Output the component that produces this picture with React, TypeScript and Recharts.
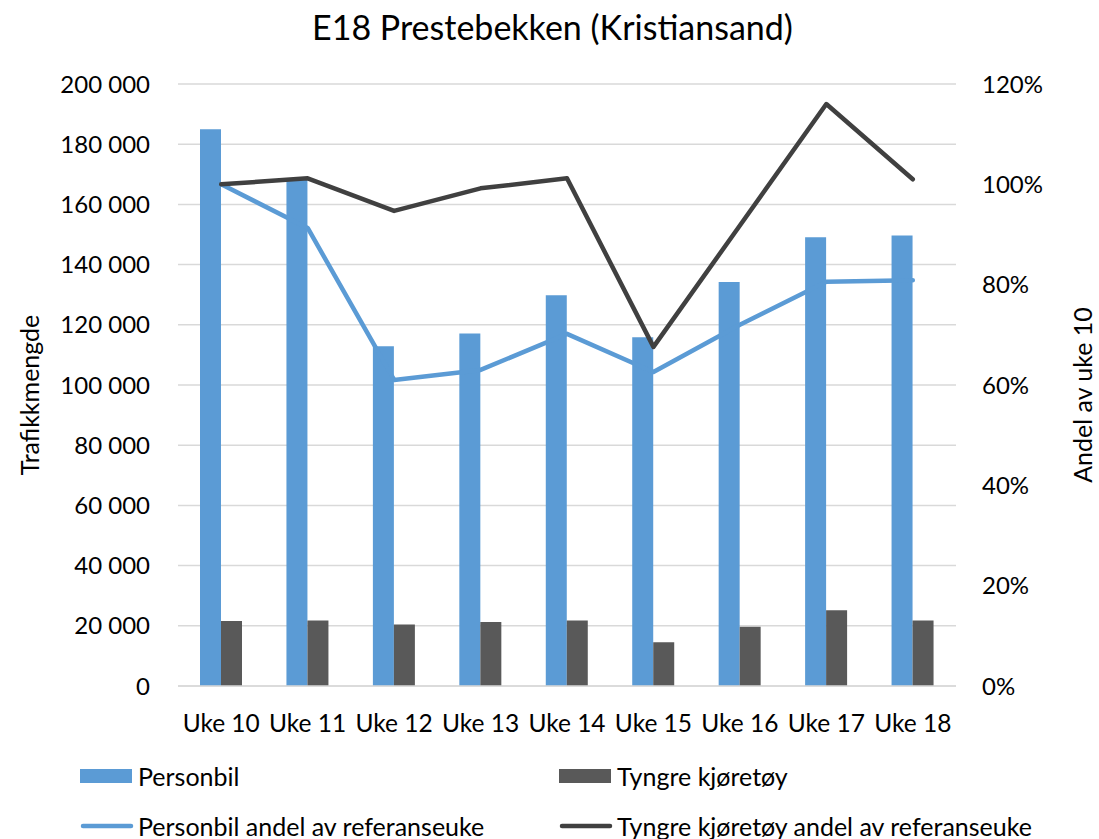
import { ComposedChart, Bar, Line, XAxis, YAxis, CartesianGrid, Legend } from 'recharts'

const categories = ['Uke 10', 'Uke 11', 'Uke 12', 'Uke 13', 'Uke 14', 'Uke 15', 'Uke 16', 'Uke 17', 'Uke 18']
const personbil = [185000, 168500, 112900, 117100, 129800, 115900, 134200, 149100, 149700]
const tyngre = [21600, 21800, 20400, 21300, 21800, 14500, 19700, 25200, 21800]
const personbilAndel = [100, 91.3, 61.0, 63.0, 70.2, 62.6, 72.0, 80.6, 80.9]
const tyngreAndel = [100, 101.2, 94.7, 99.2, 101.2, 67.6, 91.8, 116.0, 101.0]
const leftTicks = [0, 20000, 40000, 60000, 80000, 100000, 120000, 140000, 160000, 180000, 200000]
const rightTicks = [0, 20, 40, 60, 80, 100, 120]
const legendOrder = [
  'Personbil',
  'Tyngre kjøretøy',
  'Personbil andel av referanseuke',
  'Tyngre kjøretøy andel av referanseuke',
]

const data = categories.map((name, i) => ({
  name,
  personbil: personbil[i],
  tyngre: tyngre[i],
  personbilAndel: personbilAndel[i],
  tyngreAndel: tyngreAndel[i],
}))

const BLUE = '#5B9BD5'
const DARK_BAR = '#595959'
const DARK_LINE = '#404040'
const FONT = 'Lato, "Open Sans", sans-serif'

const fmtThousands = (v: number) => String(v).replace(/\B(?=(\d{3})+(?!\d))/g, ' ')

function AxisTitle({ viewBox, title, posX }: any) {
  const cy = viewBox.y + viewBox.height / 2 + 10
  return (
    <text
      x={posX}
      y={cy}
      transform={`rotate(-90 ${posX} ${cy})`}
      textAnchor="middle"
      dominantBaseline="central"
      fontSize={25}
      fontFamily={FONT}
      fill="#000"
    >
      {title}
    </text>
  )
}

function LegendContent({ payload }: any) {
  const items = legendOrder
    .map((name) => (payload || []).find((p: any) => p.value === name))
    .filter(Boolean)
  return (
    <div style={{ position: 'relative', width: 1099, height: 103, fontFamily: FONT, fontSize: 25 }}>
      {items.map((item: any, i: number) => {
        const col = i % 2
        const row = Math.floor(i / 2)
        const isLine = item.type === 'line'
        return (
          <div
            key={item.value}
            style={{
              position: 'absolute',
              left: col === 0 ? 80 : 559,
              top: row * 50 + 40 - 15,
              height: 30,
              display: 'flex',
              alignItems: 'center',
              whiteSpace: 'nowrap',
              color: '#000',
            }}
          >
            <svg width={58} height={30}>
              {isLine ? (
                <line x1={3} y1={15} x2={51} y2={15} stroke={item.color} strokeWidth={4.5} strokeLinecap="round" />
              ) : (
                <rect x={0} y={8} width={52} height={14} fill={item.color} />
              )}
            </svg>
            <span>{item.value}</span>
          </div>
        )
      })}
    </div>
  )
}

export default function App() {
  return (
    <div style={{ position: 'absolute', left: 0, top: 0, width: 1099, height: 839, background: '#fff' }}>
      <div
        style={{
          position: 'absolute',
          top: 6,
          left: 0,
          width: 1105,
          textAlign: 'center',
          fontFamily: FONT,
          fontSize: 34,
          color: '#000',
        }}
      >
        E18 Prestebekken (Kristiansand)
      </div>
      <ComposedChart
        width={1099}
        height={839}
        data={data}
        margin={{ top: 84, right: 0, bottom: 0, left: 0 }}
        barGap={0}
      >
        <CartesianGrid yAxisId="left" vertical={false} stroke="#D9D9D9" strokeWidth={1.5} />
        <XAxis
          dataKey="name"
          height={50}
          axisLine={{ stroke: '#D9D9D9', strokeWidth: 1.5 }}
          tickLine={false}
          tickMargin={23}
          interval={0}
          tick={{ fontSize: 24.5, fontFamily: FONT, fill: '#000' }}
        />
        <YAxis
          yAxisId="left"
          width={178}
          domain={[0, 200000]}
          ticks={leftTicks}
          tickFormatter={fmtThousands}
          axisLine={false}
          tickLine={false}
          tickMargin={22}
          tick={{ fontSize: 24, fontFamily: FONT, fill: '#000' }}
          label={<AxisTitle title="Trafikkmengde" posX={29} />}
        />
        <YAxis
          yAxisId="right"
          orientation="right"
          width={143}
          domain={[0, 120]}
          ticks={rightTicks}
          tickFormatter={(v: number) => `${v}%`}
          axisLine={false}
          tickLine={false}
          tickMargin={20}
          tick={{ fontSize: 24, fontFamily: FONT, fill: '#000' }}
          label={<AxisTitle title="Andel av uke 10" posX={1082} />}
        />
        <Legend
          verticalAlign="bottom"
          content={<LegendContent />}
          wrapperStyle={{ left: 0, width: 1099, height: 103 }}
        />
        <Bar yAxisId="left" dataKey="personbil" name="Personbil" fill={BLUE} barSize={21} isAnimationActive={false} legendType="rect" />
        <Bar yAxisId="left" dataKey="tyngre" name="Tyngre kjøretøy" fill={DARK_BAR} barSize={21} isAnimationActive={false} legendType="rect" />
        <Line
          yAxisId="right"
          dataKey="personbilAndel"
          name="Personbil andel av referanseuke"
          stroke={BLUE}
          strokeWidth={4.5}
          strokeLinecap="round"
          strokeLinejoin="round"
          dot={false}
          activeDot={false}
          isAnimationActive={false}
          legendType="line"
        />
        <Line
          yAxisId="right"
          dataKey="tyngreAndel"
          name="Tyngre kjøretøy andel av referanseuke"
          stroke={DARK_LINE}
          strokeWidth={4.5}
          strokeLinecap="round"
          strokeLinejoin="round"
          dot={false}
          activeDot={false}
          isAnimationActive={false}
          legendType="line"
        />
      </ComposedChart>
    </div>
  )
}
